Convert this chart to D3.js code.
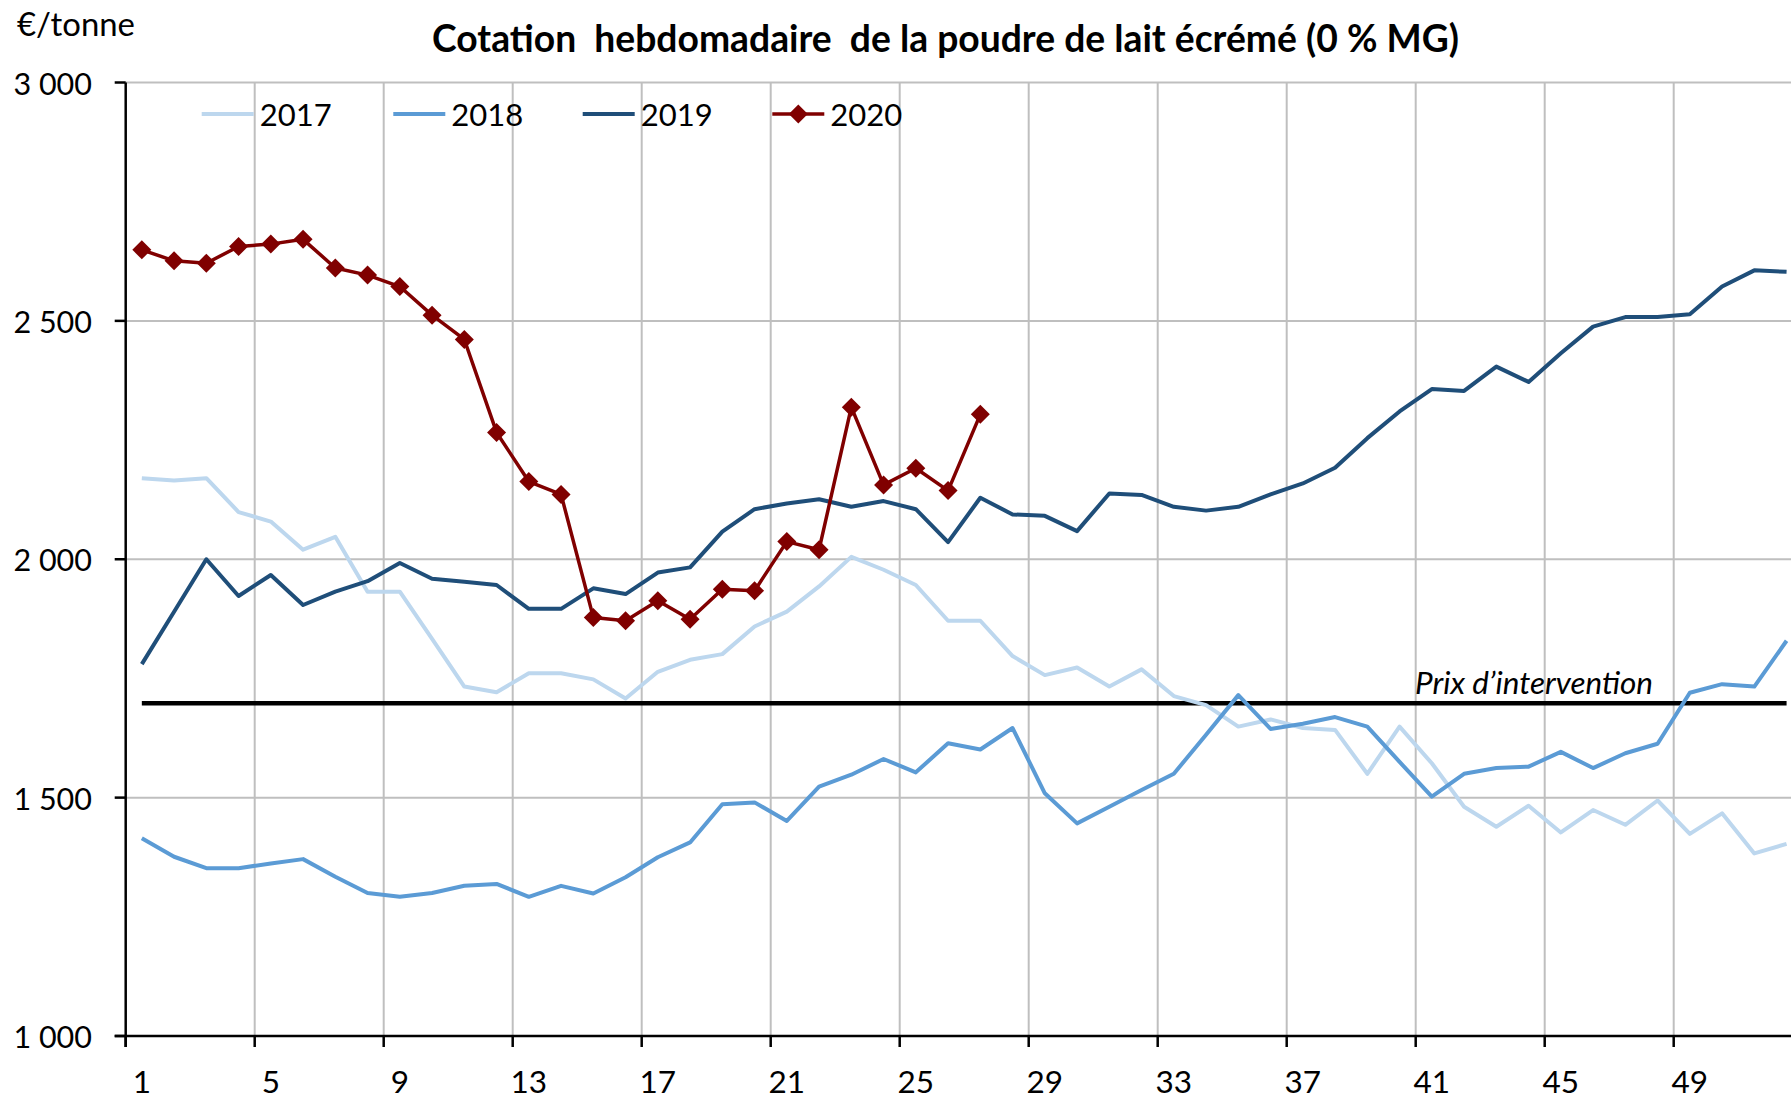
<!DOCTYPE html>
<html><head><meta charset="utf-8">
<script src="https://cdn.jsdelivr.net/npm/d3@7"></script>
<style>
html,body{margin:0;padding:0;background:#fff;}
svg{display:block;font-family:Lato,"Noto Sans",sans-serif;}
</style></head><body>
<svg id="chart" width="1791" height="1099"></svg>
<script>
// ---- Data ----
const weeks = [1,2,3,4,5,6,7,8,9,10,11,12,13,14,15,16,17,18,19,20,21,22,23,24,25,26,
  27,28,29,30,31,32,33,34,35,36,37,38,39,40,41,42,43,44,45,46,47,48,49,50,51,52];
const xTickLabels = [1,5,9,13,17,21,25,29,33,37,41,45,49];
const yTicks = [1000,1500,2000,2500,3000];
const seriesNames = ["2017","2018","2019","2020"];
const s2017 = [2170,2165,2170,2099,2079,2020,2047,1932,1932,1833,
  1733,1721,1761,1761,1748,1708,1764,1789,1801,1859,
  1890,1943,2005,1978,1946,1871,1871,1797,1757,1773,
  1733,1769,1713,1694,1649,1664,1646,1642,1550,1649,
  1572,1481,1439,1483,1427,1474,1443,1494,1424,1467,
  1383,1403];
const s2018 = [1415,1376,1352,1352,1362,1371,1334,1300,1292,1300,
  1315,1319,1292,1315,1299,1333,1375,1406,1486,1490,
  1451,1523,1548,1581,1553,1614,1601,1646,1509,1446,
  1481,1516,1550,1632,1715,1644,1655,1669,1649,1575,
  1502,1550,1562,1565,1596,1562,1593,1613,1720,1738,
  1733,1829];
const s2019 = [1780,1890,2000,1923,1967,1904,1932,1954,1992,1959,
  1953,1946,1896,1896,1939,1927,1972,1983,2058,2105,
  2117,2126,2110,2122,2105,2036,2129,2094,2091,2059,
  2138,2135,2110,2102,2110,2136,2159,2192,2254,2310,
  2357,2353,2404,2372,2432,2488,2508,2508,2514,2572,
  2606,2603];
const s2020 = [2649,2626,2621,2656,2661,2671,2611,2596,2572,2512,
  2461,2266,2163,2136,1878,1871,1913,1874,1937,1934,
  2037,2020,2319,2156,2191,2144,2304];
const interventionPrice = 1698;
const interventionLabel = "Prix d\u2019intervention";
const titleText = "Cotation  hebdomadaire  de la poudre de lait écrémé (0 % MG)";
const unitText = "€/tonne";

// ---- Layout ----
const W = 1791, H = 1099;
const plotLeft = 125.7, plotTop = 82.5, plotBottom = 1036, bandW = 32.25;
const plotRight = plotLeft + weeks.length * bandW;
const colors = {"2017":"#BDD7EE","2018":"#5B9BD5","2019":"#1F4E79","2020":"#800000"};

const svg = d3.select("#chart");
const x = d3.scaleBand().domain(weeks).range([plotLeft, plotRight]).padding(0);
const xc = w => x(w) + x.bandwidth()/2;
const y = d3.scaleLinear().domain([1000,3000]).range([plotBottom, plotTop]);
const fr = d3.formatLocale({decimal:",", thousands:"\u00a0", grouping:[3], currency:["","€"]});
const fmt = fr.format(",d");

// scale a text's font so that its width matches a target width
function fitWidth(sel, target) {
  const w = sel.node().getComputedTextLength();
  const fs = parseFloat(sel.attr("font-size"));
  if (w > 0) sel.attr("font-size", (fs * target / w).toFixed(2));
}

// gridlines
const grid = svg.append("g");
grid.selectAll("line.h").data(yTicks.filter(v => v > 1000)).join("line")
  .attr("x1", plotLeft).attr("x2", plotRight)
  .attr("y1", d => y(d)).attr("y2", d => y(d))
  .attr("stroke", "#BFBFBF").attr("stroke-width", 2);
grid.selectAll("line.v").data(xTickLabels.filter(w => w > 1)).join("line")
  .attr("x1", d => x(d)).attr("x2", d => x(d))
  .attr("y1", plotTop).attr("y2", plotBottom)
  .attr("stroke", "#BFBFBF").attr("stroke-width", 2);

// intervention line
const line = d3.line().x(d => xc(d[0])).y(d => y(d[1]));
svg.append("path")
  .attr("d", line([[weeks[0], interventionPrice], [weeks[weeks.length-1], interventionPrice]]))
  .attr("stroke", "#000").attr("stroke-width", 4.5).attr("fill", "none");
const prix = svg.append("text").text(interventionLabel)
  .attr("x", 1415).attr("y", 694)
  .attr("font-size", 28).attr("font-style", "italic").attr("fill", "#000");
fitWidth(prix, 238);

// series
const allSeries = {"2017": s2017, "2018": s2018, "2019": s2019, "2020": s2020};
seriesNames.forEach(name => {
  const vals = allSeries[name];
  const pts = vals.map((v, i) => [weeks[i], v]);
  svg.append("path").attr("d", line(pts))
    .attr("fill", "none").attr("stroke", colors[name])
    .attr("stroke-width", name === "2020" ? 3.5 : 4)
    .attr("stroke-linejoin", "round");
});
const diamond = r => `M0,${-r}L${r},0L0,${r}L${-r},0Z`;
svg.append("g").selectAll("path").data(s2020.map((v,i) => [weeks[i], v])).join("path")
  .attr("d", diamond(9.5))
  .attr("transform", d => `translate(${xc(d[0])},${y(d[1])})`)
  .attr("fill", colors["2020"]);

// axes
const ax = svg.append("g").attr("stroke", "#000").attr("stroke-width", 2.5);
ax.append("line").attr("x1", plotLeft).attr("x2", plotLeft).attr("y1", plotTop).attr("y2", plotBottom + 11);
ax.append("line").attr("x1", plotLeft - 11).attr("x2", plotRight).attr("y1", plotBottom).attr("y2", plotBottom);
ax.selectAll("line.yt").data(yTicks).join("line")
  .attr("x1", plotLeft - 11).attr("x2", plotLeft).attr("y1", d => y(d)).attr("y2", d => y(d));
ax.selectAll("line.xt").data(xTickLabels).join("line")
  .attr("x1", d => x(d)).attr("x2", d => x(d)).attr("y1", plotBottom).attr("y2", plotBottom + 11);

svg.append("g").selectAll("text").data(yTicks).join("text")
  .attr("x", 92).attr("y", d => y(d) + 12)
  .attr("text-anchor", "end").attr("font-size", 30.5).attr("fill", "#000")
  .text(d => fmt(d));
svg.append("g").selectAll("text").data(xTickLabels).join("text")
  .attr("x", d => xc(d)).attr("y", 1093)
  .attr("text-anchor", "middle").attr("font-size", 31.5).attr("fill", "#000")
  .text(d => d);

// unit + title
const unit = svg.append("text").text(unitText).attr("x", 17).attr("y", 36)
  .attr("font-size", 29).attr("fill", "#000");
fitWidth(unit, 118);
const title = svg.append("text").text(titleText)
  .attr("x", 945.5).attr("y", 52).attr("text-anchor", "middle")
  .attr("font-size", 30).attr("font-weight", "bold").attr("fill", "#000")
  .style("white-space", "pre");
fitWidth(title, 1027);

// legend
const legendX = [201.7, 393.3, 582.7, 772.3];
const lg = svg.append("g");
seriesNames.forEach((name, i) => {
  const g = lg.append("g").attr("transform", `translate(${legendX[i]},114)`);
  g.append("line").attr("x1", 0).attr("x2", 52).attr("y1", 0).attr("y2", 0)
    .attr("stroke", colors[name]).attr("stroke-width", name === "2020" ? 3.5 : 4);
  if (name === "2020") g.append("path").attr("d", diamond(9.5)).attr("transform", "translate(26,0)").attr("fill", colors[name]);
  g.append("text").attr("x", 58).attr("y", 12).attr("font-size", 31).attr("fill", "#000").text(name);
});
</script>
</body></html>
